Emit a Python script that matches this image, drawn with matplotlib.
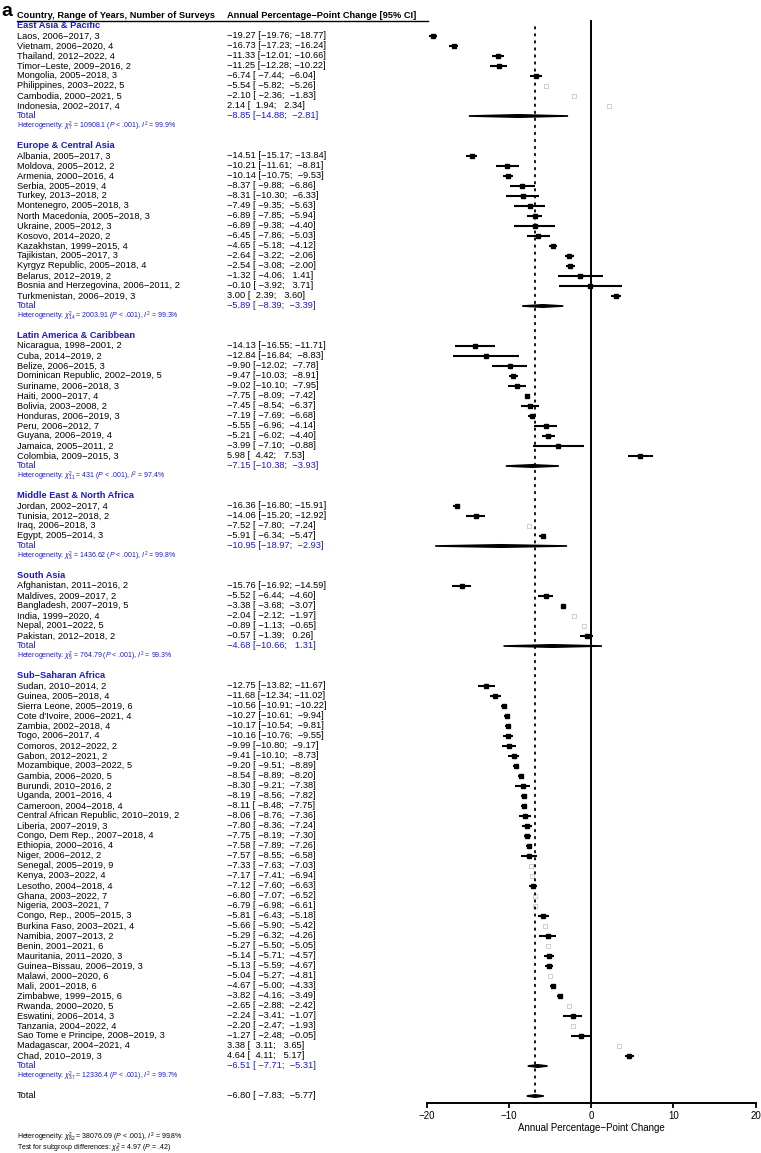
import matplotlib
matplotlib.use("Agg")
import matplotlib.pyplot as plt
from matplotlib.transforms import blended_transform_factory
from matplotlib.patches import Polygon

plt.rcParams['font.family'] = ['Liberation Sans', 'DejaVu Sans']
plt.rcParams['mathtext.fontset'] = 'custom'
plt.rcParams['mathtext.rm'] = 'Liberation Sans'
plt.rcParams['mathtext.it'] = 'Liberation Sans:italic'
plt.rcParams['mathtext.bf'] = 'Liberation Sans:bold'

# --- dane: regiony ---
regions = ["East Asia & Pacific", "Europe & Central Asia", "Latin America & Caribbean",
           "Middle East & North Africa", "South Asia", "Sub−Saharan Africa"]

eap_labels = ["Laos, 2006−2017, 3", "Vietnam, 2006−2020, 4", "Thailand, 2012−2022, 4",
              "Timor−Leste, 2009−2016, 2", "Mongolia, 2005−2018, 3", "Philippines, 2003−2022, 5",
              "Cambodia, 2000−2021, 5", "Indonesia, 2002−2017, 4"]
eap_est = [-19.27, -16.73, -11.33, -11.25, -6.74, -5.54, -2.10, 2.14]
eap_lo = [-19.76, -17.23, -12.01, -12.28, -7.44, -5.82, -2.36, 1.94]
eap_hi = [-18.77, -16.24, -10.66, -10.22, -6.04, -5.26, -1.83, 2.34]

eca_labels = ["Albania, 2005−2017, 3", "Moldova, 2005−2012, 2", "Armenia, 2000−2016, 4",
              "Serbia, 2005−2019, 4", "Turkey, 2013−2018, 2", "Montenegro, 2005−2018, 3",
              "North Macedonia, 2005−2018, 3", "Ukraine, 2005−2012, 3", "Kosovo, 2014−2020, 2",
              "Kazakhstan, 1999−2015, 4", "Tajikistan, 2005−2017, 3", "Kyrgyz Republic, 2005−2018, 4",
              "Belarus, 2012−2019, 2", "Bosnia and Herzegovina, 2006−2011, 2",
              "Turkmenistan, 2006−2019, 3"]
eca_est = [-14.51, -10.21, -10.14, -8.37, -8.31, -7.49, -6.89, -6.89, -6.45, -4.65,
           -2.64, -2.54, -1.32, -0.10, 3.00]
eca_lo = [-15.17, -11.61, -10.75, -9.88, -10.30, -9.35, -7.85, -9.38, -7.86, -5.18,
          -3.22, -3.08, -4.06, -3.92, 2.39]
eca_hi = [-13.84, -8.81, -9.53, -6.86, -6.33, -5.63, -5.94, -4.40, -5.03, -4.12,
          -2.06, -2.00, 1.41, 3.71, 3.60]

lac_labels = ["Nicaragua, 1998−2001, 2", "Cuba, 2014−2019, 2", "Belize, 2006−2015, 3",
              "Dominican Republic, 2002−2019, 5", "Suriname, 2006−2018, 3", "Haiti, 2000−2017, 4",
              "Bolivia, 2003−2008, 2", "Honduras, 2006−2019, 3", "Peru, 2006−2012, 7",
              "Guyana, 2006−2019, 4", "Jamaica, 2005−2011, 2", "Colombia, 2009−2015, 3"]
lac_est = [-14.13, -12.84, -9.90, -9.47, -9.02, -7.75, -7.45, -7.19, -5.55, -5.21, -3.99, 5.98]
lac_lo = [-16.55, -16.84, -12.02, -10.03, -10.10, -8.09, -8.54, -7.69, -6.96, -6.02, -7.10, 4.42]
lac_hi = [-11.71, -8.83, -7.78, -8.91, -7.95, -7.42, -6.37, -6.68, -4.14, -4.40, -0.88, 7.53]

mena_labels = ["Jordan, 2002−2017, 4", "Tunisia, 2012−2018, 2", "Iraq, 2006−2018, 3",
               "Egypt, 2005−2014, 3"]
mena_est = [-16.36, -14.06, -7.52, -5.91]
mena_lo = [-16.80, -15.20, -7.80, -6.34]
mena_hi = [-15.91, -12.92, -7.24, -5.47]

sa_labels = ["Afghanistan, 2011−2016, 2", "Maldives, 2009−2017, 2", "Bangladesh, 2007−2019, 5",
             "India, 1999−2020, 4", "Nepal, 2001−2022, 5", "Pakistan, 2012−2018, 2"]
sa_est = [-15.76, -5.52, -3.38, -2.04, -0.89, -0.57]
sa_lo = [-16.92, -6.44, -3.68, -2.12, -1.13, -1.39]
sa_hi = [-14.59, -4.60, -3.07, -1.97, -0.65, 0.26]

ssa_labels = ["Sudan, 2010−2014, 2", "Guinea, 2005−2018, 4", "Sierra Leone, 2005−2019, 6",
              "Cote d'Ivoire, 2006−2021, 4", "Zambia, 2002−2018, 4", "Togo, 2006−2017, 4",
              "Comoros, 2012−2022, 2", "Gabon, 2012−2021, 2", "Mozambique, 2003−2022, 5",
              "Gambia, 2006−2020, 5", "Burundi, 2010−2016, 2", "Uganda, 2001−2016, 4",
              "Cameroon, 2004−2018, 4", "Central African Republic, 2010−2019, 2",
              "Liberia, 2007−2019, 3", "Congo, Dem Rep., 2007−2018, 4", "Ethiopia, 2000−2016, 4",
              "Niger, 2006−2012, 2", "Senegal, 2005−2019, 9", "Kenya, 2003−2022, 4",
              "Lesotho, 2004−2018, 4", "Ghana, 2003−2022, 7", "Nigeria, 2003−2021, 7",
              "Congo, Rep., 2005−2015, 3", "Burkina Faso, 2003−2021, 4", "Namibia, 2007−2013, 2",
              "Benin, 2001−2021, 6", "Mauritania, 2011−2020, 3", "Guinea−Bissau, 2006−2019, 3",
              "Malawi, 2000−2020, 6", "Mali, 2001−2018, 6", "Zimbabwe, 1999−2015, 6",
              "Rwanda, 2000−2020, 5", "Eswatini, 2006−2014, 3", "Tanzania, 2004−2022, 4",
              "Sao Tome e Principe, 2008−2019, 3", "Madagascar, 2004−2021, 4", "Chad, 2010−2019, 3"]
ssa_est = [-12.75, -11.68, -10.56, -10.27, -10.17, -10.16, -9.99, -9.41, -9.20, -8.54,
           -8.30, -8.19, -8.11, -8.06, -7.80, -7.75, -7.58, -7.57, -7.33, -7.17,
           -7.12, -6.80, -6.79, -5.81, -5.66, -5.29, -5.27, -5.14, -5.13, -5.04,
           -4.67, -3.82, -2.65, -2.24, -2.20, -1.27, 3.38, 4.64]
ssa_lo = [-13.82, -12.34, -10.91, -10.61, -10.54, -10.76, -10.80, -10.10, -9.51, -8.89,
          -9.21, -8.56, -8.48, -8.76, -8.36, -8.19, -7.89, -8.55, -7.63, -7.41,
          -7.60, -7.07, -6.98, -6.43, -5.90, -6.32, -5.50, -5.71, -5.59, -5.27,
          -5.00, -4.16, -2.88, -3.41, -2.47, -2.48, 3.11, 4.11]
ssa_hi = [-11.67, -11.02, -10.22, -9.94, -9.81, -9.55, -9.17, -8.73, -8.89, -8.20,
          -7.38, -7.82, -7.75, -7.36, -7.24, -7.30, -7.26, -6.58, -7.03, -6.94,
          -6.63, -6.52, -6.61, -5.18, -5.42, -4.26, -5.05, -4.57, -4.67, -4.81,
          -4.33, -3.49, -2.42, -1.07, -1.93, -0.05, 3.65, 5.17]

# podsumowania regionów
total_est = [-8.85, -5.89, -7.15, -10.95, -4.68, -6.51]
total_lo = [-14.88, -8.39, -10.38, -18.97, -10.66, -7.71]
total_hi = [-2.81, -3.39, -3.93, -2.93, 1.31, -5.31]
het_df = [7, 14, 11, 3, 5, 37]
het_chi = ["10908.1", "2003.91", "431", "1436.62", "764.79", "12336.4"]
het_i2 = ["99.9", "99.3", "97.4", "99.8", "99.3", "99.7"]

overall = [-6.80, -7.83, -5.77]
overall_het = [82, "38076.09", "99.8"]
subgroup_test = [5, "4.97", ".42"]

ticks = [-20, -10, 0, 10, 20]

groups = [(eap_labels, eap_est, eap_lo, eap_hi), (eca_labels, eca_est, eca_lo, eca_hi),
          (lac_labels, lac_est, lac_lo, lac_hi), (mena_labels, mena_est, mena_lo, mena_hi),
          (sa_labels, sa_est, sa_lo, sa_hi), (ssa_labels, ssa_est, ssa_lo, ssa_hi)]

BLUE = "#1a1acc"
W, H = 761, 1153
FS = 6.65
FS_SMALL = 5.0


def m(s):
    return s.replace("-", "−")


def ci_text(e, l, h):
    return m(f"{e:.2f} [{l:6.2f}; {h:6.2f}]")


def fx(px):
    return px / W


fig = plt.figure(figsize=(W / 100, H / 100), dpi=100)
ax = fig.add_axes([fx(426.7), 1 - 1103 / H, (755.7 - 426.7) / W, (1103 - 21) / H])
ax.set_xlim(-20, 20)
ax.set_ylim(107.7, -0.5)
tr = blended_transform_factory(fig.transFigure, ax.transData)

col1 = fx(17)
col2 = fx(227)


def txt(x, y, s, **kw):
    ax.text(x, y, s, transform=tr, va="center", ha="left", clip_on=False, **kw)


def diamond(y, e, l, h, hh=0.12):
    poly = Polygon([(l, y), (e, y - hh), (h, y), (e, y + hh)], closed=True,
                   facecolor="black", edgecolor="black", linewidth=1.2)
    ax.add_patch(poly)


# nagłówek
txt(col1, -1.0, "Country, Range of Years, Number of Surveys", fontsize=FS, fontweight="bold")
txt(col2, -1.0, "Annual Percentage−Point Change [95% CI]", fontsize=FS, fontweight="bold")
ax.plot([fx(17), fx(428)], [-0.5, -0.5], transform=tr, color="black", lw=1.0, clip_on=False)
fig.text(fx(1), 1 - 12 / H, "a", fontsize=14, fontweight="bold", va="center", ha="left")

row = 0
for gi, (labels, est, lo, hi) in enumerate(groups):
    txt(col1, row, regions[gi], fontsize=FS, fontweight="bold", color=BLUE)
    row += 1
    for lab, e, l, h in zip(labels, est, lo, hi):
        txt(col1, row, lab, fontsize=FS)
        txt(col2, row, ci_text(e, l, h), fontsize=FS)
        if h - l < 0.605:
            ax.plot(e, row, marker="s", ms=2.4, mfc="none", mec="#bbbbbb", mew=0.5,
                    linestyle="none")
        else:
            ax.plot([l, h], [row, row], color="black", lw=1.5, solid_capstyle="butt")
            ax.plot(e, row, marker="s", ms=3.0, color="black", linestyle="none")
        row += 1
    txt(col1, row, "Total", fontsize=FS, color=BLUE)
    txt(col2, row, ci_text(total_est[gi], total_lo[gi], total_hi[gi]), fontsize=FS, color=BLUE)
    diamond(row, total_est[gi], total_lo[gi], total_hi[gi])
    row += 1
    het = (rf"Heterogeneity: $\chi^2_{{{het_df[gi]}}}$ = {het_chi[gi]} ($P$ < .001), "
           rf"$I^2$ = {het_i2[gi]}%")
    txt(col1, row, het, fontsize=FS_SMALL, color=BLUE)
    row += 2

# całość
txt(col1, row, "Total", fontsize=FS)
txt(col2, row, ci_text(*overall), fontsize=FS)
diamond(row, overall[0], overall[1], overall[2])

# linie pionowe
ax.plot([overall[0], overall[0]], [0.05, row - 0.3], color="black", lw=1.3,
        dashes=(0.9, 3.0), dash_capstyle="round")
ax.plot([0, 0], [-0.5, 107.7], color="black", lw=1.4, clip_on=False)

fig.text(col1, 1 - 1137 / H,
         rf"Heterogeneity: $\chi^2_{{{overall_het[0]}}}$ = {overall_het[1]} ($P$ < .001), "
         rf"$I^2$ = {overall_het[2]}%", fontsize=FS_SMALL, va="center", ha="left")
fig.text(col1, 1 - 1148 / H,
         rf"Test for subgroup differences: $\chi^2_{{{subgroup_test[0]}}}$ = {subgroup_test[1]} "
         rf"($P$ = {subgroup_test[2]})", fontsize=FS_SMALL, va="center", ha="left")

# oś X
for s in ["top", "left", "right"]:
    ax.spines[s].set_visible(False)
ax.spines["bottom"].set_linewidth(1.4)
ax.set_yticks([])
ax.set_xticks(ticks)
ax.set_xticklabels([m(str(t)) for t in ticks])
ax.tick_params(axis="x", length=3.5, width=1.3, labelsize=7, pad=2)
ax.set_xlabel("Annual Percentage−Point Change", fontsize=7, labelpad=2)
ax.patch.set_visible(False)

fig.savefig("out.png", dpi=100)
